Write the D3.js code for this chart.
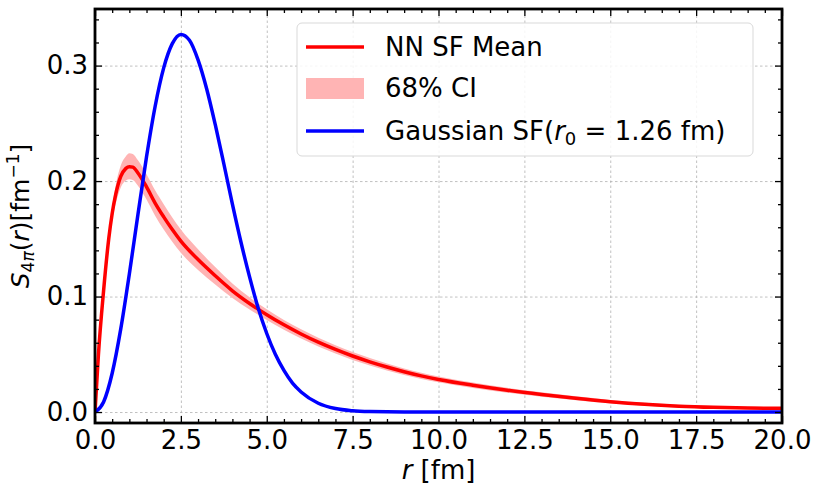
<!DOCTYPE html>
<html>
<head>
<meta charset="utf-8">
<script src="https://cdn.jsdelivr.net/npm/d3@7"></script>
<style>
  body { margin: 0; background: white; }
  svg { font-family: "DejaVu Sans", sans-serif; }
</style>
</head>
<body>
<script>
// NN structure function: radius grid, mean, 68% band
const rNN = [0, 0.1, 0.25, 0.4, 0.5, 0.6, 0.75, 0.9, 1.0, 1.1, 1.25, 1.5, 1.75, 2.0, 2.25, 2.5, 3.0, 3.5, 4.0, 4.5,
  5.0, 5.5, 6.0, 6.5, 7.0, 7.5, 8.0, 8.5, 9.0, 9.5, 10, 11, 12, 13, 14, 15, 16, 17, 18, 19, 20]
const nnMean = [0, 0.050, 0.105, 0.150, 0.172, 0.188, 0.204, 0.211, 0.2125, 0.212, 0.207, 0.195, 0.181, 0.169, 0.158, 0.148, 0.132, 0.118, 0.105, 0.094,
  0.0843, 0.0755, 0.0676, 0.0605, 0.0542, 0.0485, 0.0435, 0.039, 0.0349, 0.0313, 0.0282, 0.0232, 0.0189, 0.0152, 0.0119, 0.0090, 0.0067, 0.0051, 0.0041, 0.0035, 0.0032]
const nnLow = [0, 0.048, 0.101, 0.145, 0.166, 0.180, 0.1945, 0.2005, 0.2015, 0.201, 0.196, 0.184, 0.170, 0.158, 0.1475, 0.138, 0.123, 0.1105, 0.0987, 0.0887,
  0.0797, 0.0713, 0.0636, 0.0567, 0.0506, 0.0451, 0.0403, 0.036, 0.0321, 0.0286, 0.0257, 0.0209, 0.0168, 0.0133, 0.0102, 0.0075, 0.0054, 0.0039, 0.0030, 0.0025, 0.0022]
const nnHigh = [0, 0.052, 0.109, 0.155, 0.178, 0.196, 0.2135, 0.2215, 0.224, 0.2235, 0.218, 0.206, 0.192, 0.180, 0.1685, 0.158, 0.141, 0.1255, 0.1113, 0.0993,
  0.0889, 0.0797, 0.0716, 0.0643, 0.0578, 0.0519, 0.0467, 0.042, 0.0377, 0.034, 0.0307, 0.0255, 0.0210, 0.0171, 0.0136, 0.0105, 0.0080, 0.0063, 0.0052, 0.0045, 0.0042]

// Gaussian structure function
const rGauss = [0, 0.25, 0.5, 0.75, 1.0, 1.25, 1.5, 1.75, 2.0, 2.25, 2.5, 2.75, 3.0, 3.25, 3.5, 3.75, 4.0, 4.25, 4.5, 4.75,
  5.0, 5.25, 5.5, 5.75, 6.0, 6.5, 7.0, 7.5, 8.0, 9.0, 10, 12.5, 15, 17.5, 20]
const gauss = [0, 0.0087, 0.0336, 0.072, 0.1196, 0.171, 0.221, 0.2646, 0.298, 0.319, 0.327, 0.322, 0.305, 0.280, 0.249, 0.215, 0.180, 0.147, 0.117, 0.090,
  0.068, 0.050, 0.036, 0.025, 0.0174, 0.0076, 0.0030, 0.0011, 0.0004, 0, 0, 0, 0, 0, 0]

const xTicks = [0, 2.5, 5, 7.5, 10, 12.5, 15, 17.5, 20]
const yTicks = [0, 0.1, 0.2, 0.3]

const width = 820
const height = 484
const pLeft = 95, pRight = 782, pTop = 9, pBottom = 423

const svg = d3.select('body').append('svg').attr('width', width).attr('height', height)

const x = d3.scaleLinear().domain([0, 20]).range([pLeft, pRight])
const y = d3.scaleLinear().domain([-0.0095, 0.349]).range([pBottom, pTop])

const xMinor = d3.range(0, 20.01, 0.5).filter(v => !xTicks.includes(v))
const yMinor = d3.range(0, 0.341, 0.02).map(v => +v.toFixed(2)).filter(v => !yTicks.includes(v))

// grid
svg.append('g').attr('transform', `translate(0,${pBottom})`)
  .call(d3.axisBottom(x).tickValues(xTicks).tickSize(-(pBottom - pTop)).tickFormat(''))
  .call(g => g.select('.domain').remove())
  .selectAll('line').attr('stroke', '#b0b0b0').attr('stroke-width', 0.8).attr('stroke-dasharray', '2.5,2.5')
svg.append('g').attr('transform', `translate(${pLeft},0)`)
  .call(d3.axisLeft(y).tickValues(yTicks).tickSize(-(pRight - pLeft)).tickFormat(''))
  .call(g => g.select('.domain').remove())
  .selectAll('line').attr('stroke', '#b0b0b0').attr('stroke-width', 0.8).attr('stroke-dasharray', '2.5,2.5')

svg.append('clipPath').attr('id', 'plot').append('rect')
  .attr('x', pLeft).attr('y', pTop).attr('width', pRight - pLeft).attr('height', pBottom - pTop)

const plot = svg.append('g').attr('clip-path', 'url(#plot)')

const band = d3.area().x((d, i) => x(rNN[i])).y0((d, i) => y(nnLow[i])).y1((d, i) => y(nnHigh[i])).curve(d3.curveMonotoneX)
plot.append('path').datum(rNN).attr('d', band).attr('fill', '#ffb4b4')

const line = d3.line().x(d => x(d[0])).y(d => y(d[1])).curve(d3.curveMonotoneX)
plot.append('path').datum(rNN.map((r, i) => [r, nnMean[i]])).attr('d', line)
  .attr('fill', 'none').attr('stroke', '#ff0000').attr('stroke-width', 3.5)
plot.append('path').datum(rGauss.map((r, i) => [r, gauss[i]])).attr('d', line)
  .attr('fill', 'none').attr('stroke', '#0000ff').attr('stroke-width', 3.5)

// ticks, pointing inward on all four sides
const tickStyle = g => {
  g.select('.domain').remove()
  g.selectAll('line').attr('stroke', '#000').attr('stroke-width', 1.3)
  g.selectAll('text').attr('font-size', 26).attr('fill', '#000').attr('font-family', '"DejaVu Sans", sans-serif')
}
svg.append('g').attr('transform', `translate(0,${pBottom})`)
  .call(d3.axisBottom(x).tickValues(xTicks).tickSize(-7).tickPadding(8).tickFormat(d3.format('.1f'))).call(tickStyle)
svg.append('g').attr('transform', `translate(0,${pBottom})`)
  .call(d3.axisBottom(x).tickValues(xMinor).tickSize(-4).tickFormat('')).call(tickStyle)
svg.append('g').attr('transform', `translate(0,${pTop})`)
  .call(d3.axisTop(x).tickValues(xTicks).tickSize(-7).tickFormat('')).call(tickStyle)
svg.append('g').attr('transform', `translate(0,${pTop})`)
  .call(d3.axisTop(x).tickValues(xMinor).tickSize(-4).tickFormat('')).call(tickStyle)
svg.append('g').attr('transform', `translate(${pLeft},0)`)
  .call(d3.axisLeft(y).tickValues(yTicks).tickSize(-7).tickPadding(7).tickFormat(d3.format('.1f'))).call(tickStyle)
svg.append('g').attr('transform', `translate(${pLeft},0)`)
  .call(d3.axisLeft(y).tickValues(yMinor).tickSize(-4).tickFormat('')).call(tickStyle)
svg.append('g').attr('transform', `translate(${pRight},0)`)
  .call(d3.axisRight(y).tickValues(yTicks).tickSize(-7).tickFormat('')).call(tickStyle)
svg.append('g').attr('transform', `translate(${pRight},0)`)
  .call(d3.axisRight(y).tickValues(yMinor).tickSize(-4).tickFormat('')).call(tickStyle)

// frame
svg.append('rect').attr('x', pLeft).attr('y', pTop).attr('width', pRight - pLeft).attr('height', pBottom - pTop)
  .attr('fill', 'none').attr('stroke', '#000').attr('stroke-width', 2.8)

// axis labels
const xl = svg.append('text').attr('x', (pLeft + pRight) / 2).attr('y', 479).attr('text-anchor', 'middle').attr('font-size', 26)
xl.append('tspan').attr('font-style', 'italic').text('r')
xl.append('tspan').text(' [fm]')

const yl = svg.append('text').attr('transform', `translate(29,${(pTop + pBottom) / 2}) rotate(-90)`)
  .attr('text-anchor', 'middle').attr('font-size', 25)
yl.append('tspan').attr('font-style', 'italic').text('S')
yl.append('tspan').attr('font-size', 17).attr('dy', 5).text('4')
yl.append('tspan').attr('font-size', 17).attr('font-style', 'italic').text('π')
yl.append('tspan').attr('dy', -5).text('(')
yl.append('tspan').attr('font-style', 'italic').text('r')
yl.append('tspan').text(')[fm')
yl.append('tspan').attr('font-size', 17).attr('dy', -10).text('−1')
yl.append('tspan').attr('dy', 10).text(']')

// legend
const legend = svg.append('g')
legend.append('rect').attr('x', 297).attr('y', 23).attr('width', 456).attr('height', 133).attr('rx', 5)
  .attr('fill', 'white').attr('fill-opacity', 0.85).attr('stroke', '#d9d9d9').attr('stroke-width', 1)
const rows = [47, 88, 131]
legend.append('line').attr('x1', 306).attr('x2', 364).attr('y1', rows[0]).attr('y2', rows[0])
  .attr('stroke', '#ff0000').attr('stroke-width', 3.5)
legend.append('rect').attr('x', 306).attr('y', rows[1] - 10).attr('width', 58).attr('height', 21).attr('fill', '#ffb4b4')
legend.append('line').attr('x1', 306).attr('x2', 364).attr('y1', rows[2]).attr('y2', rows[2])
  .attr('stroke', '#0000ff').attr('stroke-width', 3.5)

legend.append('text').attr('x', 385).attr('y', rows[0] + 9).attr('font-size', 26).text('NN SF Mean')
legend.append('text').attr('x', 385).attr('y', rows[1] + 9).attr('font-size', 26).text('68% CI')
const gl = legend.append('text').attr('x', 385).attr('y', rows[2] + 9).attr('font-size', 26)
gl.append('tspan').text('Gaussian SF(')
gl.append('tspan').attr('font-style', 'italic').text('r')
gl.append('tspan').attr('font-size', 18).attr('dy', 5).text('0')
gl.append('tspan').attr('dy', -5).text(' = 1.26 fm)')
</script>
</body>
</html>
